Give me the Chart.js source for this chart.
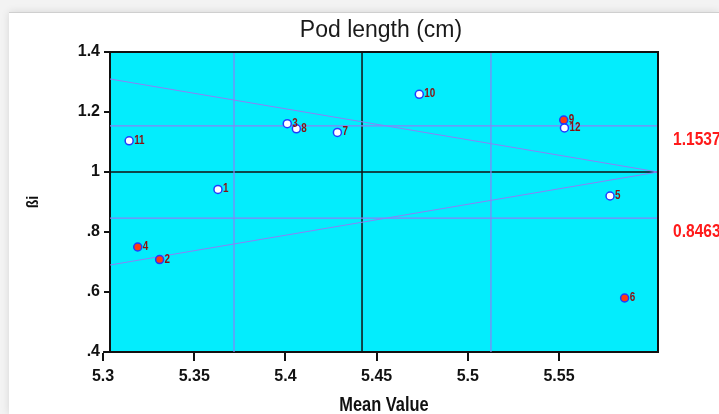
<!DOCTYPE html>
<html>
<head>
<meta charset="utf-8">
<script src="https://cdn.jsdelivr.net/npm/chart.js@4.4.0/dist/chart.umd.min.js"></script>
<style>
    body { margin: 0; background: #f3f3f3; width: 719px; height: 414px; overflow: hidden; }
    #card { position: absolute; left: 9px; top: 12px; right: 0; bottom: 0; background: #fff;
            border-top: 1px solid #cfcfcf; box-shadow: 0 0 8px rgba(0, 0, 0, 0.12); }
    #stability-chart { position: absolute; left: 0; top: 0; }
</style>
</head>
<body>
<div id="card"></div>
<canvas id="stability-chart" width="719" height="414"></canvas>
<script>
// Genotype data: mean pod length and regression coefficient (bi)
const genotypes = ["1", "2", "3", "4", "5", "6", "7", "8", "9", "10", "11", "12"];
const meanValues = [5.363, 5.331, 5.401, 5.319, 5.578, 5.586, 5.4285, 5.406, 5.5526, 5.4734, 5.3143, 5.553];
const betaValues = [0.942, 0.708, 1.161, 0.750, 0.920, 0.580, 1.132, 1.144, 1.173, 1.259, 1.104, 1.147];
const redGenotypes = ["2", "4", "6", "9"];

// Reference lines
const grandMean = 5.442;
const meanLimits = [5.3718, 5.5127];
const betaLimits = [1.1537, 0.8463];
const betaLimitLabels = ["1.1537", "0.8463"];
const coneApex = { x: 5.6043, y: 1.0 };
const coneLeftEnds = [1.31, 0.69];

// Axes
const xRange = [5.3038, 5.6043];
const yRange = [0.4, 1.4];
const xTicks = [5.3, 5.35, 5.4, 5.45, 5.5, 5.55];
const yTicks = [0.4, 0.6, 0.8, 1.0, 1.2, 1.4];
const yTickLabels = [".4", ".6", ".8", "1", "1.2", "1.4"];

const sans = "'Liberation Sans', Arial, sans-serif";
const purple = "#8a82f5";

const points = genotypes.map((g, i) => ({ x: meanValues[i], y: betaValues[i] }));
const fills = genotypes.map(g => redGenotypes.includes(g) ? "#ff3a10" : "#ffffff");

function refLine(data, color, width) {
    return {
        type: "line",
        data: data,
        borderColor: color,
        borderWidth: width,
        pointRadius: 0,
        fill: false,
        tension: 0
    };
}

const lineSets = [
    refLine([{ x: xRange[0], y: betaLimits[0] }, { x: xRange[1], y: betaLimits[0] }], purple, 1.2),
    refLine([{ x: xRange[0], y: betaLimits[1] }, { x: xRange[1], y: betaLimits[1] }], purple, 1.2),
    refLine([{ x: meanLimits[0], y: yRange[0] }, { x: meanLimits[0], y: yRange[1] }], purple, 1.2),
    refLine([{ x: meanLimits[1], y: yRange[0] }, { x: meanLimits[1], y: yRange[1] }], purple, 1.2),
    refLine([{ x: xRange[0], y: coneLeftEnds[0] }, coneApex], purple, 1.2),
    refLine([{ x: xRange[0], y: coneLeftEnds[1] }, coneApex], purple, 1.2),
    refLine([{ x: grandMean, y: yRange[0] }, { x: grandMean, y: yRange[1] }], "#111", 1.5),
    refLine([{ x: xRange[0], y: 1 }, { x: xRange[1], y: 1 }], "#111", 1.5)
];

// squeezed text, to get close to the narrow font of the original
function narrowText(ctx, text, x, y, font, align, angle) {
    ctx.save();
    ctx.translate(x, y);
    if (angle) ctx.rotate(angle);
    ctx.scale(0.82, 1);
    ctx.font = font;
    ctx.textAlign = align;
    ctx.textBaseline = "alphabetic";
    ctx.fillText(text, 0, 0);
    ctx.restore();
}

// Background, frame and extra texts
const framePlugin = {
    id: "frame",
    beforeDraw(chart) {
        const a = chart.chartArea;
        const ctx = chart.ctx;
        ctx.save();
        ctx.fillStyle = "#03edfd";
        ctx.fillRect(a.left, a.top, a.right - a.left, a.bottom - a.top);
        ctx.restore();
    },
    afterDraw(chart) {
        const a = chart.chartArea;
        const ctx = chart.ctx;
        const xs = chart.scales.x;
        const ys = chart.scales.y;
        ctx.save();

        // top and right edges, and x axis running back to 5.3
        ctx.strokeStyle = "#111";
        ctx.lineWidth = 2;
        ctx.beginPath();
        ctx.moveTo(a.left, a.top);
        ctx.lineTo(a.right, a.top);
        ctx.lineTo(a.right, a.bottom);
        ctx.moveTo(xs.getPixelForValue(xTicks[0]), a.bottom);
        ctx.lineTo(a.left, a.bottom);
        ctx.stroke();

        // title
        ctx.fillStyle = "#1a1a1a";
        ctx.font = "23px " + sans;
        ctx.textAlign = "center";
        ctx.textBaseline = "alphabetic";
        ctx.fillText("Pod length (cm)", (a.left + a.right) / 2 - 3, 37);

        // axis titles
        ctx.fillStyle = "#111";
        narrowText(ctx, "Mean Value", (a.left + a.right) / 2, 411, "bold 20px " + sans, "center");
        narrowText(ctx, "ßi", 38, (a.top + a.bottom) / 2, "bold 17px " + sans, "center", -Math.PI / 2);

        // beta limit values on the right
        ctx.fillStyle = "#ff1a1a";
        betaLimits.forEach((v, i) => {
            narrowText(ctx, betaLimitLabels[i], a.right + 15, ys.getPixelForValue(v) + 19, "bold 19px " + sans, "left");
        });

        // genotype numbers next to the points
        ctx.fillStyle = "#8b1010";
        points.forEach((p, i) => {
            narrowText(ctx, genotypes[i], xs.getPixelForValue(p.x) + 5, ys.getPixelForValue(p.y) + 3, "bold 12px " + sans, "left");
        });
        ctx.restore();
    }
};

new Chart(document.getElementById("stability-chart"), {
    type: "scatter",
    data: {
        datasets: [{
            label: "Genotypes",
            data: points,
            pointRadius: 4,
            pointBackgroundColor: fills,
            pointBorderColor: "#1f3cff",
            pointBorderWidth: 1.5,
            showLine: false
        }].concat(lineSets)
    },
    options: {
        responsive: false,
        animation: false,
        layout: { padding: { top: 52, right: 61, left: 0, bottom: 0 } },
        plugins: {
            legend: { display: false },
            tooltip: { enabled: false }
        },
        scales: {
            x: {
                type: "linear",
                min: xRange[0],
                max: xRange[1],
                afterBuildTicks: scale => { scale.ticks = xTicks.map(v => ({ value: v })); },
                afterFit: scale => { scale.height = 62; },
                ticks: {
                    autoSkip: false,
                    maxRotation: 0,
                    padding: 6,
                    color: "#111",
                    font: { family: sans, size: 16, weight: "bold" },
                    callback: v => String(v)
                },
                grid: { drawOnChartArea: false, color: "#111", lineWidth: 2, tickLength: 9 },
                border: { color: "#111", width: 2 },
                title: { display: false }
            },
            y: {
                min: yRange[0],
                max: yRange[1],
                afterBuildTicks: scale => { scale.ticks = yTicks.map(v => ({ value: v })); },
                afterFit: scale => { scale.width = 110; },
                ticks: {
                    autoSkip: false,
                    padding: 4,
                    color: "#111",
                    font: { family: sans, size: 16, weight: "bold" },
                    callback: (v, i) => yTickLabels[i]
                },
                grid: { drawOnChartArea: false, color: "#111", lineWidth: 2, tickLength: 6 },
                border: { color: "#111", width: 2 },
                title: { display: false }
            }
        }
    },
    plugins: [framePlugin]
});
</script>
</body>
</html>
